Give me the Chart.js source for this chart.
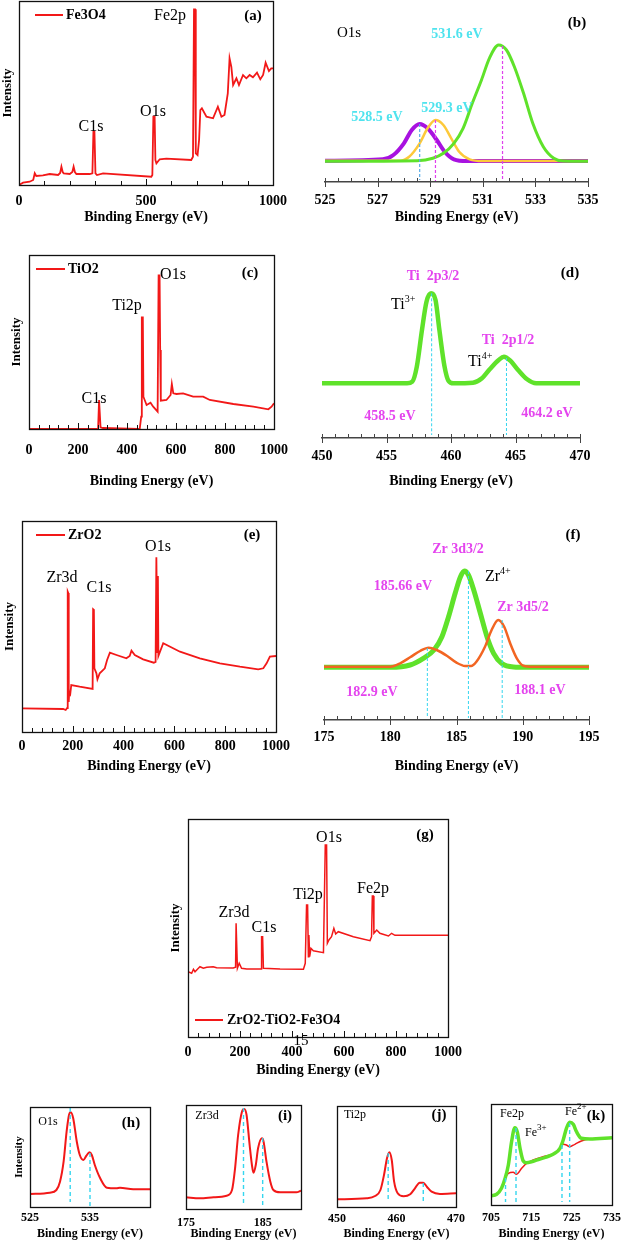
<!DOCTYPE html>
<html>
<head>
<meta charset="utf-8">
<script src="https://cdn.jsdelivr.net/npm/chart.js@4.4.1/dist/chart.umd.min.js"></script>
<style>
body { margin: 0; background: #fff; width: 622px; height: 1241px; position: relative; overflow: hidden; }
canvas { position: absolute; }
</style>
</head>
<body>
<script>
// ---- data (energy in eV, intensity in arbitrary units) ----

// (a) Fe3O4 survey
const fe3o4E = [0,16,42,56,62,68,94,121,154,162,167,172,176,200,210,215,220,226,278,289,293,297,301,307,331,521,525,529,534,537,541,554,580,678,685,689,693,696,703,709,714,720,738,764,783,797,809,822,829,836,843,856,866,882,895,908,921,937,950,961,971,984,993,1000];
const fe3o4I = [0,2.3,3.3,5,11.7,9,9.7,11,10,12,18.3,13,11.7,11,13,18.3,13,11,11,11.7,53.3,53.3,11.7,10,11.7,8.3,10,68.3,68.3,25,21.7,25.7,26.3,25,28.3,175.7,175.7,31.7,30,45,75,76.7,68.3,66.7,78.3,68.3,70,91.7,126.7,118,100,106.7,100,110,106.7,110,107.7,112.3,105.7,110,122.3,114,116.7,116.7];
const aTicks = [0, 500, 1000];

// (b) O1s fit of Fe3O4
const o1sPurpleE = [525,527.2,527.6,528.0,528.3,528.6,528.9,529.25,529.55,529.9,530.4,535];
const o1sPurpleI = [21.3,22.7,27,38.7,52,58,53.7,42,30.3,22.7,21,21];
const o1sYellowE = [525,527.85,528.2,528.6,528.9,529.2,529.5,529.8,530.1,530.5,531,535];
const o1sYellowI = [21.3,21.3,25.3,38.7,53.7,62,57,43.7,30.3,22.7,21,21];
const o1sGreenE = [525,528.5,529.1,529.5,529.9,530.25,530.6,530.95,531.25,531.6,531.9,532.2,532.55,532.9,533.3,533.7,534.05,535];
const o1sGreenI = [20.7,21.3,23.7,28.7,38.7,53.7,78.7,102,123.7,137,132,115.3,88.7,58.7,35.3,23.7,21,20.7];
const o1sMarkE = [528.6, 529.2, 531.75];
const o1sMarkTop = [58, 62, 136];
const o1sMarkLow = [2, 1, 1];
const bTicks = [525, 527, 529, 531, 533, 535];

// (c) TiO2 survey
const tio2E = [0,275,282,286,289,292,302,445,452,458,460.5,464.6,467,480,496,507,525,529,533,535.4,538,561,578,583,589,602,629,670,711,738,834,916,977,990,1000];
const tio2I = [0,0,0,29,29,1.7,1,0,0.3,12.3,111.7,111.7,32.3,24,26.3,22.3,17.3,153.7,153.7,79,28.3,29,34,45,35.7,35,35.7,32.3,32.3,29,25,22.3,19.7,22.3,25.7];
const surveyTicks = [0, 200, 400, 600, 800, 1000];

// (d) Ti 2p fit
const ti2pE = [450,456.6,457,457.35,457.75,458.1,458.45,458.8,459.1,459.5,459.8,460.2,461.7,462.4,463,463.7,464.1,464.6,465.2,465.9,466.6,470];
const ti2pI = [54.7,54.7,56.3,71.3,108,136.3,144.7,138,108,71.3,57.3,54.7,55.3,59.7,68.7,78,81.3,77.3,68,58.7,54.7,54.7];
const ti2pMarkE = [458.5, 464.3];
const ti2pMarkTop = [144.7, 80];
const ti2pMarkLow = [3, 3];
const dTicks = [450, 455, 460, 465, 470];

// (e) ZrO2 survey
const zro2E = [0,162,172,178,180,182,184,186,190,194,227,278,280,283,285,293,297,306,326,335,346,372,411,424,431,444,477,519,526,529,531,533,535,537,556,622,700,779,858,930,950,963,976,1000];
const zro2I = [23.7,23,22,24,140.3,139,30,40,38,47,45.3,43,122.7,122,63.7,58.7,52.7,58.7,63.7,72,79.3,77,73.7,76,81.3,77,72.7,69.3,70,174.7,174.7,80,156,76,88.7,80.3,73.7,68.7,65.3,62.7,63.7,68.7,75.3,76];

// (f) Zr 3d fit
const zr3dGreenE = [175,180,181.5,182.5,183.3,183.9,184.4,184.9,185.3,185.6,185.9,186.3,186.8,187.3,187.8,188.4,189.3,190.3,195];
const zr3dGreenI = [52.7,52.7,55,61.7,70,83.3,103.3,126.7,143.3,149,145,130,106.7,83.3,66.7,56.7,53,52.7,52.7];
const zr3dOrangeE = [175,180,180.75,181.5,182.25,182.9,183.5,184.3,185,185.65,186.1,186.5,187.15,187.65,188.15,188.6,189.05,189.55,190.05,190.8,195];
const zr3dOrangeI = [53.3,53.3,56.7,62.7,69,72.3,70,64,57.3,54,54,58.3,73.3,90,100,93.3,76.7,61.7,54.3,53.3,53.3];
const zr3dMarkE = [182.8, 185.9, 188.45];
const zr3dMarkTop = [72, 149, 100];
const zr3dMarkLow = [2, 2, 2];
const fTicks = [175, 180, 185, 190, 195];

// (g) ZrO2-TiO2-Fe3O4 survey
const compE = [0,14,21,27,40,46,59,72,97,110,174,183,185,188,190,197,206,226,281,283,287,290,354,444,451,456,460,463,465,468,473,482,521,528,533,536,542,552,561,568,578,636,700,706,709,713,715,726,738,771,783,796,1000];
const compI = [65.3,63.7,67.7,65.3,68.7,70.3,68.7,69.7,70.3,69.3,69,69.7,113.7,113.7,68.7,73.7,68.7,68,68,100.3,100.3,68.7,68,67.7,73.7,132,132,80.3,102,80.3,88.7,86.3,84.3,192,192,93.7,97,100.3,108.7,103,105.3,100.3,96.3,100.3,141,141,103.7,107,103.7,101,103.7,101.7,101.7];

// (h) composite O1s
const hE = [525,528.3,529.4,530,530.6,531.1,531.5,531.8,532.2,532.8,533.3,533.9,534.4,534.9,535.3,535.8,536.7,537.8,539.4,540,542.2,545];
const hI = [13,14.3,17,25.3,45.3,75.3,92,94.7,88.7,65.3,52,47,51.3,54.7,52,42,28.7,19.3,18.7,19.3,17.7,17.7];
const hMarkE = [531.7, 535];
const hMarkTop = [99, 54];
const hMarkLow = [5, 0.5];
const hTicks = [525, 535];

// (i) composite Zr3d
const iE = [175,176.8,178.6,180.3,181,181.4,181.8,182.3,182.6,182.9,183.3,183.6,183.8,184.1,184.4,184.9,185.1,185.5,186,186.4,187.3,189.4,190];
const iI = [11.7,10.7,11.7,13.3,19,40.7,74,97.3,100,94,64,44,36.3,44,60.7,70.7,68,47.3,27.3,19,16.7,16.7,18.3];
const iMarkE = [182.5, 185];
const iMarkTop = [101, 71];
const iMarkLow = [4, 1];
const iTicks = [175, 185];

// (j) composite Ti2p
const jE = [450,455,456.4,457.3,457.9,458.4,458.8,459.2,459.6,460.2,461.2,462.3,463.1,463.9,464.5,465.1,465.9,467.3,470];
const jI = [7.7,8.7,11,17,32,48.7,54.7,47,25.3,13.7,10.7,12.7,18.7,24.3,24.3,20.3,15.3,13,13.7];
const jMarkE = [458.6, 464.5];
const jMarkTop = [54, 24];
const jMarkLow = [5, 5];
const jTicks = [450, 460, 470];

// (k) composite Fe2p
const kRedE = [705,706.4,707.6,708.5,709.3,710.5,711.3,712.6,713.8,715.5,717.9,720.8,722.1,722.9,723.7,724.5,725.8,727.4,729.5,735];
const kRedI = [9.3,10.7,16.7,26.7,31.7,32.7,30.7,36.7,41.7,45,48.3,51.7,56.7,60.7,60,58.3,60.7,64,66,67.3];
const kGreenE = [705,706.4,707.6,708.5,709.3,710.1,710.9,711.5,712.2,713,713.8,717.1,720.8,722.1,722.9,723.7,724.5,725.4,726.2,727.4,729.5,735];
const kGreenI = [9.3,10.7,16.7,26.7,40,63.3,77.3,73.3,56.7,44,42.3,46,51.7,56.7,65,76.7,82.7,80.7,73.3,66.7,66,67.3];
const kMarkE = [708.6, 711.2, 722.6, 724.5];
const kMarkTop = [27, 77, 60, 82];
const kMarkLow = [3, 3, 3, 3];
const kTicks = [705, 715, 725, 735];

// ---- styles ----
const SERIF = '"Liberation Serif", "Times New Roman", serif';
const RED = '#f21818';
const GREEN = '#5fe22a';
const PURPLE = '#a812e0';
const YELLOW = '#fdc93a';
const ORANGE = '#f26522';
const CYAN_TXT = '#4fe3ee';
const MAG_TXT = '#e444ee';
const CYAN_DASH = '#35d6ef';
const BLUE_DASH = '#5aaeea';
const MAG_DASH = '#e040ee';

function f(size, bold) { return (bold ? 'bold ' : '') + size + 'px ' + SERIF; }

Chart.defaults.font.family = SERIF;
Chart.defaults.color = '#000';

function pts(xs, ys) { return xs.map((x, i) => ({ x: x, y: ys[i] })); }

function line(xs, ys, color, width, smooth) {
    return {
        data: pts(xs, ys),
        borderColor: color,
        borderWidth: width,
        pointRadius: 0,
        fill: false,
        tension: 0,
        cubicInterpolationMode: smooth ? 'monotone' : 'default'
    };
}

function marks(xs, tops, lows, color, width, dash) {
    return xs.map((x, i) => ({
        data: [{ x: x, y: tops[i] }, { x: x, y: lows[i] }],
        borderColor: Array.isArray(color) ? color[i] : color,
        borderWidth: width,
        borderDash: dash,
        pointRadius: 0,
        fill: false
    }));
}

// box around the plot area
const framePlugin = {
    id: 'frame',
    afterDraw(chart) {
        if (!chart.canvas._frame) return;
        const a = chart.chartArea, ctx = chart.ctx;
        ctx.save();
        ctx.strokeStyle = '#111';
        ctx.lineWidth = 1.3;
        ctx.strokeRect(Math.round(a.left) + 0.5, Math.round(a.top) + 0.5, Math.round(a.right - a.left), Math.round(a.bottom - a.top));
        ctx.restore();
    }
};

// small tick marks on the x axis (inward / crossing)
const ticksPlugin = {
    id: 'axisTicks',
    afterDraw(chart) {
        const o = chart.canvas._ticks;
        if (!o) return;
        const s = chart.scales.x, ctx = chart.ctx, yb = Math.round(chart.chartArea.bottom);
        ctx.save();
        ctx.strokeStyle = o.color;
        ctx.lineWidth = 1;
        s.ticks.forEach(t => {
            const px = Math.round(s.getPixelForValue(t.value)) + 0.5;
            const major = t.label !== '';
            const up = major ? o.majorUp : o.minor;
            const down = major ? (o.majorDown || 0) : 0;
            ctx.beginPath();
            ctx.moveTo(px, yb - up);
            ctx.lineTo(px, yb + down);
            ctx.stroke();
        });
        ctx.restore();
    }
};

// text labels and legend keys, given in page coordinates
const notesPlugin = {
    id: 'notes',
    afterDraw(chart) {
        const items = chart.canvas._notes || [];
        const ctx = chart.ctx;
        const ox = chart.canvas.offsetLeft, oy = chart.canvas.offsetTop;
        ctx.save();
        ctx.textBaseline = 'middle';
        items.forEach(n => {
            if (n.key) {
                ctx.strokeStyle = n.key;
                ctx.lineWidth = 2;
                ctx.beginPath();
                ctx.moveTo(n.x1 - ox, n.y - oy);
                ctx.lineTo(n.x2 - ox, n.y - oy);
                ctx.stroke();
            }
            ctx.font = n.font;
            ctx.fillStyle = n.color || '#000';
            ctx.textAlign = n.align || 'center';
            ctx.fillText(n.text, n.x - ox, n.y - oy);
            if (n.sup) {
                const w = ctx.measureText(n.text).width;
                ctx.font = n.supFont;
                ctx.textAlign = 'left';
                ctx.fillText(n.sup, n.x - ox + w, n.y - oy - n.supRise);
            }
        });
        ctx.restore();
    }
};

Chart.register(framePlugin, ticksPlugin, notesPlugin);

function panel(p) {
    const c = document.createElement('canvas');
    const b = p.box, a = p.area;
    c.width = b.w;
    c.height = b.h;
    c.style.left = b.x + 'px';
    c.style.top = b.y + 'px';
    c.style.width = b.w + 'px';
    c.style.height = b.h + 'px';
    c._frame = !!p.framed;
    c._ticks = p.ticks || null;
    c._notes = p.notes || [];
    document.body.appendChild(c);
    const majors = p.majors;
    new Chart(c, {
        type: 'line',
        data: { datasets: p.sets },
        options: {
            responsive: false,
            animation: false,
            events: [],
            layout: { padding: { left: 0, top: a.T - b.y, right: b.x + b.w - a.R, bottom: 0 } },
            scales: {
                x: {
                    type: 'linear',
                    min: p.range[0],
                    max: p.range[1],
                    border: { display: !p.framed, color: '#444', width: 1.5 },
                    grid: { display: false, drawTicks: false },
                    ticks: {
                        stepSize: p.step,
                        autoSkip: false,
                        maxRotation: 0,
                        padding: p.tickPad,
                        color: '#000',
                        font: { family: SERIF, size: p.tickSize, weight: 'bold' },
                        callback: v => majors.some(m => Math.abs(m - v) < 1e-6) ? String(v) : ''
                    },
                    title: {
                        display: true,
                        text: 'Binding Energy (eV)',
                        color: '#000',
                        padding: 0,
                        font: { family: SERIF, size: p.titleSize, weight: 'bold' }
                    },
                    afterFit: s => {
                        s.height = b.y + b.h - a.B;
                        s.paddingLeft = 0;
                        s.paddingRight = 0;
                    }
                },
                y: {
                    type: 'linear',
                    min: 0,
                    max: a.B - a.T,
                    grid: { display: false, drawTicks: false },
                    border: { display: false },
                    ticks: { display: false },
                    title: {
                        display: !!p.yTitle,
                        text: 'Intensity',
                        color: '#000',
                        padding: 0,
                        font: { family: SERIF, size: p.yTitle || 12, weight: 'bold' }
                    },
                    afterFit: s => {
                        s.width = a.L - b.x;
                        s.paddingTop = 0;
                        s.paddingBottom = 0;
                    }
                }
            },
            plugins: {
                legend: { display: false },
                tooltip: { enabled: false }
            }
        }
    });
}

const inTicks = { color: '#111', minor: 4, majorUp: 6 };
const crossTicks = { color: '#444', minor: 4, majorUp: 4, majorDown: 5 };

// (a)
panel({
    box: { x: 0, y: 0, w: 300, h: 226 }, area: { L: 19, T: 1, R: 273, B: 185 },
    range: [0, 1000], step: 100, majors: aTicks, tickSize: 14, tickPad: 8, titleSize: 14, yTitle: 13,
    framed: true, ticks: inTicks,
    sets: [line(fe3o4E, fe3o4I, RED, 1.8)],
    notes: [
        { key: RED, x1: 35, x2: 63, y: 15, x: 66, align: 'left', text: 'Fe3O4', font: f(14, true) },
        { text: 'Fe2p', x: 170, y: 16, font: f(16) },
        { text: 'O1s', x: 153, y: 112, font: f(16) },
        { text: 'C1s', x: 91, y: 127, font: f(16) },
        { text: '(a)', x: 253, y: 16, font: f(15, true) }
    ]
});

// (b)
panel({
    box: { x: 305, y: 0, w: 317, h: 226 }, area: { L: 325, T: 10, R: 588, B: 182 },
    range: [525, 535], step: 0.5, majors: bTicks, tickSize: 14, tickPad: 9.6, titleSize: 14,
    ticks: crossTicks,
    sets: marks(o1sMarkE, o1sMarkTop, o1sMarkLow, [BLUE_DASH, MAG_DASH, MAG_DASH], 1.2, [3, 2]).concat([
        line(o1sGreenE, o1sGreenI, GREEN, 3, true),
        line(o1sYellowE, o1sYellowI, YELLOW, 2.5, true),
        line(o1sPurpleE, o1sPurpleI, PURPLE, 4, true)
    ]),
    notes: [
        { text: 'O1s', x: 349, y: 33, font: f(15) },
        { text: '(b)', x: 577, y: 23, font: f(15, true) },
        { text: '531.6 eV', x: 457, y: 34, font: f(14, true), color: CYAN_TXT },
        { text: '528.5 eV', x: 377, y: 117, font: f(14, true), color: CYAN_TXT },
        { text: '529.3 eV', x: 447, y: 108, font: f(14, true), color: CYAN_TXT }
    ]
});

// (c)
panel({
    box: { x: 9, y: 235, w: 291, h: 255 }, area: { L: 29, T: 255, R: 274, B: 429 },
    range: [0, 1000], step: 40, majors: surveyTicks, tickSize: 14, tickPad: 12.5, titleSize: 14, yTitle: 13,
    framed: true, ticks: inTicks,
    sets: [line(tio2E, tio2I, RED, 1.8)],
    notes: [
        { key: RED, x1: 36, x2: 65, y: 269, x: 68, align: 'left', text: 'TiO2', font: f(14, true) },
        { text: '(c)', x: 250, y: 273, font: f(15, true) },
        { text: 'O1s', x: 173, y: 275, font: f(16) },
        { text: 'Ti2p', x: 127, y: 306, font: f(16) },
        { text: 'C1s', x: 94, y: 399, font: f(16) }
    ]
});

// (d)
panel({
    box: { x: 305, y: 235, w: 317, h: 255 }, area: { L: 322, T: 245, R: 580, B: 438 },
    range: [450, 470], step: 1, majors: dTicks, tickSize: 14, tickPad: 10, titleSize: 14,
    ticks: crossTicks,
    sets: marks(ti2pMarkE, ti2pMarkTop, ti2pMarkLow, CYAN_DASH, 1, [3, 2]).concat([
        line(ti2pE, ti2pI, GREEN, 4.5, true)
    ]),
    notes: [
        { text: 'Ti  2p3/2', x: 433, y: 276, font: f(14, true), color: MAG_TXT },
        { text: 'Ti', x: 391, y: 305, align: 'left', font: f(16), sup: '3+', supFont: f(10), supRise: 6 },
        { text: 'Ti  2p1/2', x: 508, y: 340, font: f(14, true), color: MAG_TXT },
        { text: 'Ti', x: 468, y: 362, align: 'left', font: f(16), sup: '4+', supFont: f(10), supRise: 6 },
        { text: '458.5 eV', x: 390, y: 416, font: f(14, true), color: MAG_TXT },
        { text: '464.2 eV', x: 547, y: 413, font: f(14, true), color: MAG_TXT },
        { text: '(d)', x: 570, y: 273, font: f(15, true) }
    ]
});

// (e)
panel({
    box: { x: 2, y: 495, w: 298, h: 280 }, area: { L: 22, T: 521, R: 276, B: 732 },
    range: [0, 1000], step: 40, majors: surveyTicks, tickSize: 14, tickPad: 6, titleSize: 14, yTitle: 13,
    framed: true, ticks: inTicks,
    sets: [line(zro2E, zro2I, RED, 1.8)],
    notes: [
        { key: RED, x1: 36, x2: 65, y: 535, x: 68, align: 'left', text: 'ZrO2', font: f(14, true) },
        { text: '(e)', x: 252, y: 535, font: f(15, true) },
        { text: 'O1s', x: 158, y: 547, font: f(16) },
        { text: 'Zr3d', x: 62, y: 578, font: f(16) },
        { text: 'C1s', x: 99, y: 588, font: f(16) }
    ]
});

// (f)
panel({
    box: { x: 305, y: 495, w: 317, h: 280 }, area: { L: 324, T: 505, R: 589, B: 720 },
    range: [175, 195], step: 1, majors: fTicks, tickSize: 14, tickPad: 8.6, titleSize: 14,
    ticks: crossTicks,
    sets: marks(zr3dMarkE, zr3dMarkTop, zr3dMarkLow, CYAN_DASH, 1, [3, 2]).concat([
        line(zr3dOrangeE, zr3dOrangeI, ORANGE, 2.5, true),
        line(zr3dGreenE, zr3dGreenI, GREEN, 5, true)
    ]),
    notes: [
        { text: 'Zr 3d3/2', x: 458, y: 549, font: f(14, true), color: MAG_TXT },
        { text: 'Zr', x: 485, y: 577, align: 'left', font: f(16), sup: '4+', supFont: f(10), supRise: 6 },
        { text: '185.66 eV', x: 403, y: 586, font: f(14, true), color: MAG_TXT },
        { text: 'Zr 3d5/2', x: 523, y: 607, font: f(14, true), color: MAG_TXT },
        { text: '182.9 eV', x: 372, y: 692, font: f(14, true), color: MAG_TXT },
        { text: '188.1 eV', x: 540, y: 690, font: f(14, true), color: MAG_TXT },
        { text: '(f)', x: 573, y: 535, font: f(15, true) }
    ]
});

// (g)
panel({
    box: { x: 168, y: 805, w: 300, h: 274 }, area: { L: 188, T: 819, R: 448, B: 1037 },
    range: [0, 1000], step: 40, majors: surveyTicks, tickSize: 14, tickPad: 6.6, titleSize: 14, yTitle: 13,
    framed: true, ticks: inTicks,
    sets: [line(compE, compI, RED, 1.5)],
    notes: [
        { text: '(g)', x: 425, y: 835, font: f(15, true) },
        { text: 'O1s', x: 329, y: 838, font: f(16) },
        { text: 'Fe2p', x: 373, y: 889, font: f(16) },
        { text: 'Ti2p', x: 308, y: 895, font: f(16) },
        { text: 'Zr3d', x: 234, y: 913, font: f(16) },
        { text: 'C1s', x: 264, y: 928, font: f(16) },
        { key: RED, x1: 195, x2: 223, y: 1020, x: 227, align: 'left', text: 'ZrO2-TiO2-Fe3O4', font: f(14, true) },
        { text: '15', x: 301, y: 1041, font: f(15) }
    ]
});

// (h)
panel({
    box: { x: 13, y: 1095, w: 147, h: 146 }, area: { L: 30, T: 1107, R: 150, B: 1207 },
    range: [525, 545], step: 10, majors: hTicks, tickSize: 12, tickPad: 3.5, titleSize: 12, yTitle: 11,
    framed: true,
    sets: marks(hMarkE, hMarkTop, hMarkLow, CYAN_DASH, 1.4, [4, 3]).concat([line(hE, hI, RED, 2, true)]),
    notes: [
        { text: 'O1s', x: 48, y: 1122, font: f(12) },
        { text: '(h)', x: 131, y: 1123, font: f(15, true) }
    ]
});

// (i)
panel({
    box: { x: 170, y: 1095, w: 140, h: 146 }, area: { L: 186, T: 1105, R: 301, B: 1209 },
    range: [175, 190], step: 5, majors: iTicks, tickSize: 12, tickPad: 6.8, titleSize: 12,
    framed: true,
    sets: marks(iMarkE, iMarkTop, iMarkLow, CYAN_DASH, 1.4, [4, 3]).concat([line(iE, iI, RED, 2, true)]),
    notes: [
        { text: 'Zr3d', x: 207, y: 1116, font: f(12) },
        { text: '(i)', x: 285, y: 1116, font: f(15, true) }
    ]
});

// (j)
panel({
    box: { x: 320, y: 1095, w: 150, h: 146 }, area: { L: 337, T: 1106, R: 456, B: 1207 },
    range: [450, 470], step: 10, majors: jTicks, tickSize: 12, tickPad: 5, titleSize: 12,
    framed: true,
    sets: marks(jMarkE, jMarkTop, jMarkLow, CYAN_DASH, 1.4, [4, 3]).concat([line(jE, jI, RED, 2, true)]),
    notes: [
        { text: 'Ti2p', x: 355, y: 1115, font: f(12) },
        { text: '(j)', x: 439, y: 1115, font: f(15, true) }
    ]
});

// (k)
panel({
    box: { x: 474, y: 1093, w: 148, h: 148 }, area: { L: 491, T: 1104, R: 612, B: 1205 },
    range: [705, 735], step: 10, majors: kTicks, tickSize: 12, tickPad: 5.5, titleSize: 12,
    framed: true,
    sets: marks(kMarkE, kMarkTop, kMarkLow, CYAN_DASH, 1.4, [4, 3]).concat([
        line(kGreenE, kGreenI, GREEN, 3.5, true),
        line(kRedE, kRedI, RED, 1.5, true)
    ]),
    notes: [
        { text: 'Fe2p', x: 512, y: 1114, font: f(12) },
        { text: 'Fe', x: 525, y: 1133, align: 'left', font: f(12), sup: '3+', supFont: f(9), supRise: 5 },
        { text: 'Fe', x: 565, y: 1112, align: 'left', font: f(12), sup: '2+', supFont: f(9), supRise: 5 },
        { text: '(k)', x: 596, y: 1116, font: f(15, true) }
    ]
});
</script>
</body>
</html>
